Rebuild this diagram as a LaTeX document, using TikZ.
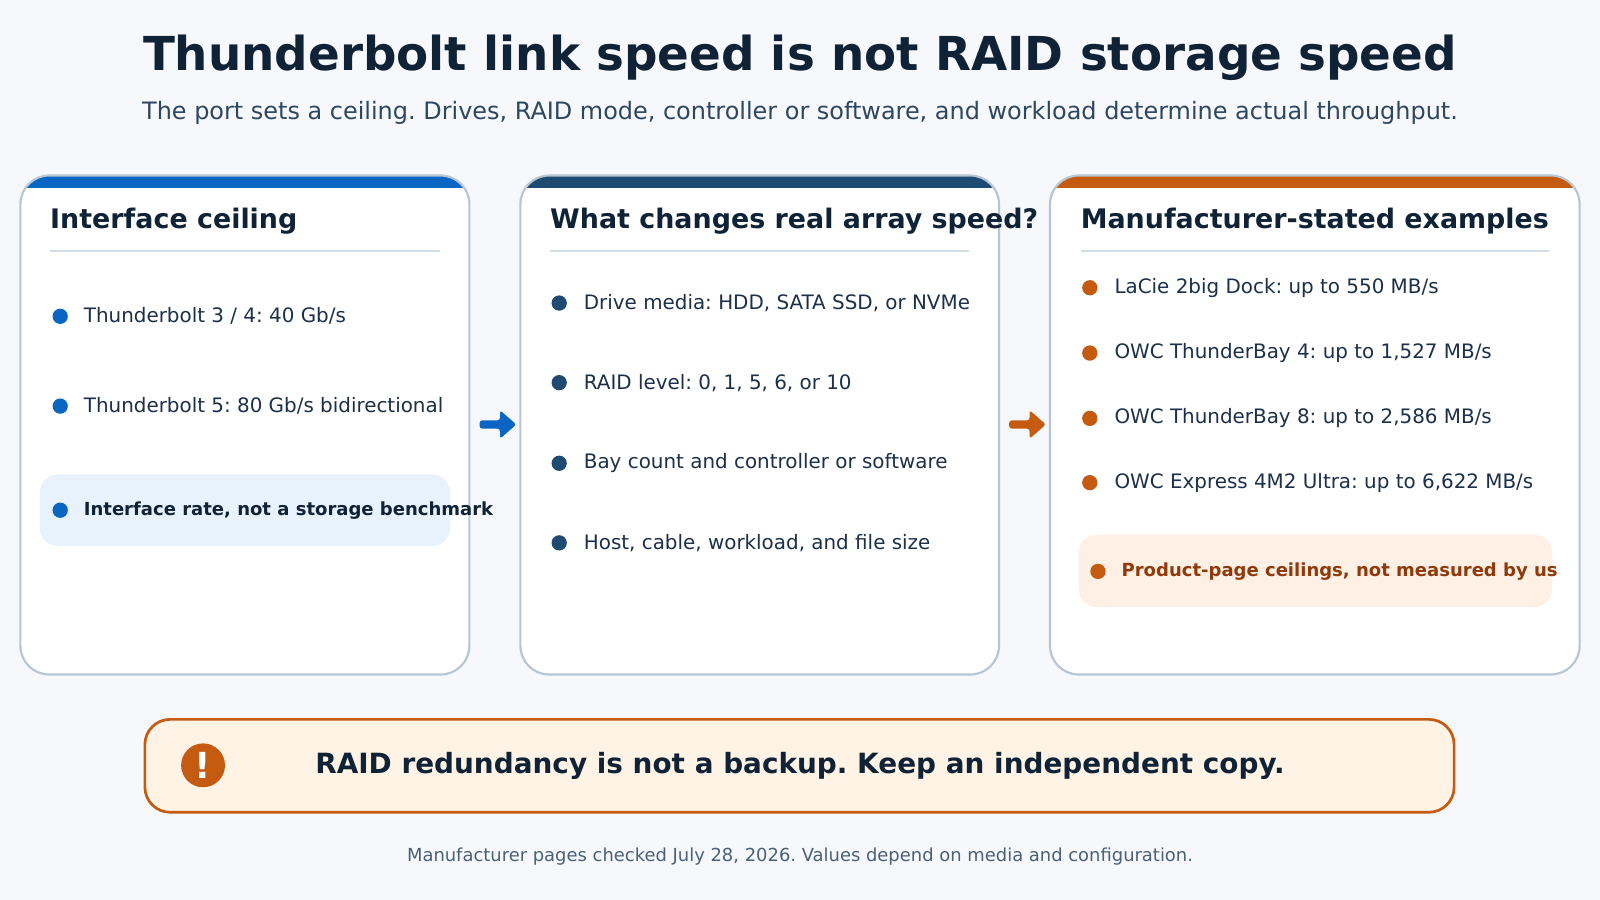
\documentclass[tikz,border=0pt]{standalone}
\usepackage{fontspec}
\setmainfont{DejaVu Sans}
\begin{document}
\frenchspacing
\definecolor{bg}{HTML}{F6F8FB}
\definecolor{ink}{HTML}{0F2236}
\definecolor{sub}{HTML}{2E4761}
\definecolor{itm}{HTML}{1C3049}
\definecolor{cblue}{HTML}{0B66C3}
\definecolor{cnavy}{HTML}{1F4A72}
\definecolor{corange}{HTML}{C55A11}
\definecolor{bord}{HTML}{B8C6D4}
\definecolor{sep}{HTML}{D3DDE6}
\definecolor{lblue}{HTML}{E8F2FD}
\definecolor{lorange}{HTML}{FFF0E6}
\definecolor{banner}{HTML}{FFF3E6}
\definecolor{dorange}{HTML}{8E3A0A}
\definecolor{foot}{HTML}{4A6078}
\begin{tikzpicture}[x={(0.02cm,0)},y={(0,-0.02cm)},
  item/.style={anchor=west,font=\fontsize{11.1pt}{13pt}\selectfont,text=itm},
  head/.style={anchor=west,font=\bfseries\fontsize{15pt}{17pt}\selectfont,text=ink},
  note/.style={anchor=west,font=\bfseries\fontsize{10.05pt}{12pt}\selectfont}]
\fill[bg] (0,0) rectangle (1568,882);
\useasboundingbox (0,0) rectangle (1568,882);
\node[font=\bfseries\fontsize{26.1pt}{30pt}\selectfont,text=ink] (title) at (784,57) {Thunderbolt link speed is not RAID storage speed};
\node[font=\fontsize{13.35pt}{15pt}\selectfont,text=sub] (subtitle) at (784,111) {The port sets a ceiling. Drives, RAID mode, controller or software, and workload determine actual throughput.};
% cards
\foreach \xa/\xb/\c in {20/460/cblue,510/979/cnavy,1029/1548/corange}{
  \begin{scope}
    \clip[rounded corners=16] (\xa,172) rectangle (\xb,661);
    \fill[\c] (\xa,172) rectangle (\xb,184);
    \fill[white] (\xa,184) rectangle (\xb,661);
  \end{scope}
  \draw[bord,line width=1.2pt,rounded corners=16] (\xa,172) rectangle (\xb,661);
}
\draw[sep,line width=1pt] (49,246) -- (431,246);
\draw[sep,line width=1pt] (539,246) -- (950,246);
\draw[sep,line width=1pt] (1059,246) -- (1518,246);
\node[head] (h1) at (43,217) {Interface ceiling};
\node[head] (h2) at (533,217) {What changes real array speed?};
\node[head] (h3) at (1053,217) {Manufacturer-stated examples};
% card 1
\fill[lblue,rounded corners=10] (39,465) rectangle (441,535);
\foreach \y/\t [count=\i] in {310/{Thunderbolt 3 / 4: 40 Gb/s},398/{Thunderbolt 5: 80 Gb/s bidirectional}}{
  \fill[cblue] (59,\y) circle (7.5);
  \node[item] (a\i) at (76,\y) {\t};
}
\fill[cblue] (59,500) circle (7.5);
\node[note,text=ink] (n1) at (76,500) {Interface rate, not a storage benchmark};
% card 2
\foreach \y/\t [count=\i] in {297/{Drive media: HDD, SATA SSD, or NVMe},375/{RAID level: 0, 1, 5, 6, or 10},454/{Bay count and controller or software},532/{Host, cable, workload, and file size}}{
  \fill[cnavy] (548,\y) circle (7.5);
  \node[item] (b\i) at (566,\y) {\t};
}
% card 3
\foreach \y/\t [count=\i] in {282/{LaCie 2big Dock: up to 550 MB/s},346/{OWC ThunderBay 4: up to 1,527 MB/s},410/{OWC ThunderBay 8: up to 2,586 MB/s},473/{OWC Express 4M2 Ultra: up to 6,622 MB/s}}{
  \fill[corange] (1068,\y) circle (7.5);
  \node[item] (c\i) at (1086,\y) {\t};
}
\fill[lorange,rounded corners=10] (1057,524) rectangle (1521,595);
\fill[corange] (1076,560) circle (7.5);
\node[note,text=dorange] (n3) at (1093,560) {Product-page ceilings, not measured by us};
% arrows
\foreach \xa/\c in {470/cblue,989/corange}{
  \fill[\c,rounded corners=1.5] (\xa,412) -- (\xa+20,412) -- (\xa+20,402) -- (\xa+36,416) -- (\xa+20,430) -- (\xa+20,420) -- (\xa,420) -- cycle;
}
% banner
\draw[corange,fill=banner,line width=1.5pt,rounded corners=14] (142,705) rectangle (1425,796);
\fill[corange] (199,750) circle (21.5);
\node[text=white,font=\bfseries\fontsize{20pt}{22pt}\selectfont] (excl) at (199,750) {!};
\node[font=\bfseries\fontsize{15.55pt}{18pt}\selectfont,text=ink] (btext) at (784,751) {RAID redundancy is not a backup. Keep an independent copy.};
\node[font=\fontsize{10pt}{12pt}\selectfont,text=foot] (footer) at (784,839) {Manufacturer pages checked July 28, 2026. Values depend on media and configuration.};
\end{tikzpicture}
\end{document}
